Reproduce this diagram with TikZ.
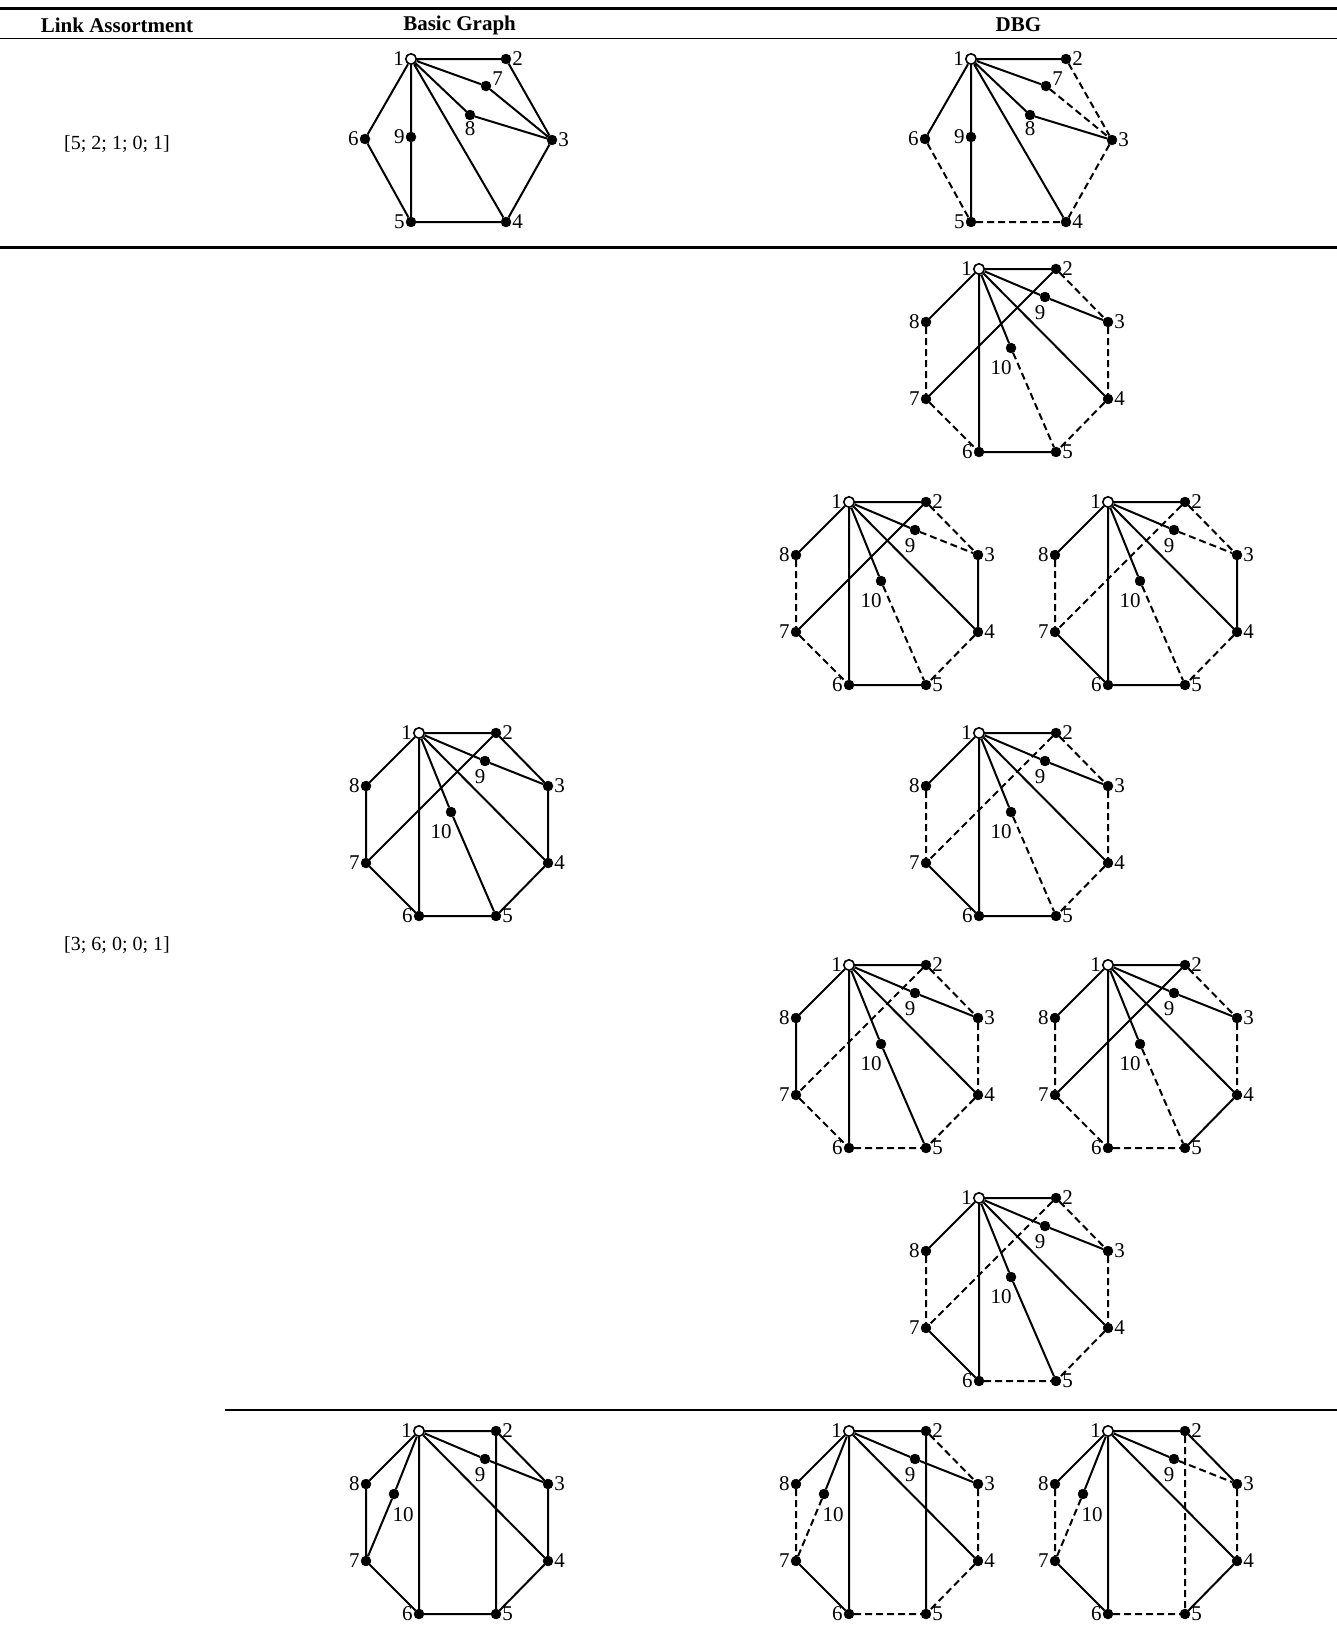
\documentclass[tikz,border=0pt]{standalone}
\usepackage{fontspec}
\setmainfont{Liberation Serif}

% nine node graph of the first row
\newcommand{\hexgraph}[2]{%
  \begin{scope}[shift={#2}]
    \node[root,label=west:1] (#11) at (0,0) {};
    \node[dot,label=east:2] (#12) at (95,0) {};
    \node[dot,label={[yshift=7pt]east:7}] (#17) at (75,27) {};
    \node[dot,label=below:8] (#18) at (59,56) {};
    \node[dot,label=east:3] (#13) at (141,81) {};
    \node[dot,label=west:6] (#16) at (-46,80) {};
    \node[dot,label=west:9] (#19) at (0,78) {};
    \node[dot,label=west:5] (#15) at (0,163) {};
    \node[dot,label=east:4] (#14) at (95,163) {};
  \end{scope}}

% ten node graph: name, place of 1, place of 10, label of 10
\newcommand{\octgraph}[4]{%
  \begin{scope}[shift={#2}]
    \node[root,label=west:1] (#11) at (0,0) {};
    \node[dot,label=east:2] (#12) at (77,0) {};
    \node[dot,label={[xshift=-5pt,yshift=-2pt]below:9}] (#19) at (66,28) {};
    \node[dot,label=east:3] (#13) at (129,53) {};
    \node[dot,label=west:8] (#18) at (-53,53) {};
    \node[dot,label={#4}] (#110) at #3 {};
    \node[dot,label=west:7] (#17) at (-53,130) {};
    \node[dot,label=east:4] (#14) at (129,130) {};
    \node[dot,label=west:6] (#16) at (0,183) {};
    \node[dot,label=east:5] (#15) at (77,183) {};
  \end{scope}}

\begin{document}
\begin{tikzpicture}[x=1pt,y=-1pt,
    dot/.style={circle,draw,fill,inner sep=0pt,minimum size=10pt},
    root/.style={circle,draw,fill=white,line width=1.6pt,inner sep=0pt,minimum size=10.5pt},
    every label/.style={inner sep=1pt,font=\fontsize{21}{24}\selectfont},
    link/.style={line width=2pt},
    dlink/.style={link,dash pattern=on 7pt off 4pt},
    head/.style={font=\fontsize{21}{24}\selectfont\bfseries},
    rowlabel/.style={font=\fontsize{20}{24}\selectfont}]

  \useasboundingbox (0,0) rectangle (1337,1638);

  % table
  \draw[line width=2.5pt] (0,8.4) -- (1337,8.4);
  \draw[line width=1.2pt] (0,38.6) -- (1337,38.6);
  \draw[line width=2.5pt] (0,247.5) -- (1337,247.5);
  \draw[line width=1.5pt] (224.6,1410) -- (1337,1410);

  \node[head] (hlink) at (117,25) {Link Assortment};
  \node[head] (hbasic) at (459.6,25) {Basic Graph};
  \node[head] (hdbg) at (1018.4,25) {DBG};

  \node[rowlabel] (rowa) at (117,144) {[5; 2; 1; 0; 1]};
  \node[rowlabel] (rowb) at (117,945) {[3; 6; 0; 0; 1]};

  % first row
  \hexgraph{hb}{(411,59)}
  \hexgraph{hd}{(971,59)}
  \draw[link] (hb1) -- (hb2) (hb1) -- (hb7) (hb7) -- (hb3) (hb1) -- (hb8)
    (hb8) -- (hb3) (hb2) -- (hb3) (hb1) -- (hb6) (hb6) -- (hb5) (hb1) -- (hb9)
    (hb9) -- (hb5) (hb1) -- (hb4) (hb3) -- (hb4) (hb5) -- (hb4);
  \draw[link] (hd1) -- (hd2) (hd1) -- (hd7) (hd1) -- (hd8) (hd8) -- (hd3)
    (hd1) -- (hd6) (hd1) -- (hd9) (hd9) -- (hd5) (hd1) -- (hd4);
  \draw[dlink] (hd7) -- (hd3) (hd2) -- (hd3) (hd6) -- (hd5) (hd3) -- (hd4) (hd5) -- (hd4);

  % second row
  \octgraph{ob}{(419,733)}{(32,79)}{[xshift=-10pt,yshift=-6pt]below:10}
  \draw[link] (ob1) -- (ob2) (ob1) -- (ob9) (ob9) -- (ob3) (ob2) -- (ob3)
    (ob2) -- (ob7) (ob1) -- (ob8) (ob8) -- (ob7) (ob7) -- (ob6) (ob1) -- (ob6)
    (ob1) -- (ob10) (ob10) -- (ob5) (ob1) -- (ob4) (ob3) -- (ob4) (ob4) -- (ob5)
    (ob6) -- (ob5);

  \octgraph{oa}{(979,269)}{(32,79)}{[xshift=-10pt,yshift=-6pt]below:10}
  \draw[link] (oa1) -- (oa2) (oa1) -- (oa9) (oa9) -- (oa3) (oa2) -- (oa7)
    (oa1) -- (oa8) (oa1) -- (oa6) (oa1) -- (oa10) (oa1) -- (oa4) (oa6) -- (oa5);
  \draw[dlink] (oa2) -- (oa3) (oa8) -- (oa7) (oa7) -- (oa6) (oa10) -- (oa5)
    (oa3) -- (oa4) (oa4) -- (oa5);

  \octgraph{oc}{(849,502)}{(32,79)}{[xshift=-10pt,yshift=-6pt]below:10}
  \draw[link] (oc1) -- (oc2) (oc1) -- (oc9) (oc2) -- (oc7) (oc1) -- (oc8)
    (oc1) -- (oc6) (oc1) -- (oc10) (oc1) -- (oc4) (oc3) -- (oc4) (oc6) -- (oc5);
  \draw[dlink] (oc2) -- (oc3) (oc9) -- (oc3) (oc8) -- (oc7) (oc7) -- (oc6)
    (oc10) -- (oc5) (oc4) -- (oc5);

  \octgraph{od}{(1108,502)}{(32,79)}{[xshift=-10pt,yshift=-6pt]below:10}
  \draw[link] (od1) -- (od2) (od1) -- (od9) (od1) -- (od8) (od7) -- (od6)
    (od1) -- (od6) (od1) -- (od10) (od1) -- (od4) (od3) -- (od4) (od6) -- (od5);
  \draw[dlink] (od2) -- (od3) (od9) -- (od3) (od2) -- (od7) (od8) -- (od7)
    (od10) -- (od5) (od4) -- (od5);

  \octgraph{oe}{(979,733)}{(32,79)}{[xshift=-10pt,yshift=-6pt]below:10}
  \draw[link] (oe1) -- (oe2) (oe1) -- (oe9) (oe9) -- (oe3) (oe1) -- (oe8)
    (oe7) -- (oe6) (oe1) -- (oe6) (oe1) -- (oe10) (oe1) -- (oe4) (oe6) -- (oe5);
  \draw[dlink] (oe2) -- (oe3) (oe2) -- (oe7) (oe8) -- (oe7) (oe10) -- (oe5)
    (oe3) -- (oe4) (oe4) -- (oe5);

  \octgraph{of}{(849,965)}{(32,79)}{[xshift=-10pt,yshift=-6pt]below:10}
  \draw[link] (of1) -- (of2) (of1) -- (of9) (of9) -- (of3) (of1) -- (of8)
    (of8) -- (of7) (of1) -- (of6) (of1) -- (of10) (of10) -- (of5) (of1) -- (of4);
  \draw[dlink] (of2) -- (of3) (of2) -- (of7) (of7) -- (of6) (of3) -- (of4)
    (of4) -- (of5) (of6) -- (of5);

  \octgraph{og}{(1108,965)}{(32,79)}{[xshift=-10pt,yshift=-6pt]below:10}
  \draw[link] (og1) -- (og2) (og1) -- (og9) (og9) -- (og3) (og2) -- (og7)
    (og1) -- (og8) (og1) -- (og6) (og1) -- (og10) (og1) -- (og4) (og4) -- (og5);
  \draw[dlink] (og2) -- (og3) (og8) -- (og7) (og7) -- (og6) (og10) -- (og5)
    (og3) -- (og4) (og6) -- (og5);

  \octgraph{oh}{(979,1198)}{(32,79)}{[xshift=-10pt,yshift=-6pt]below:10}
  \draw[link] (oh1) -- (oh2) (oh1) -- (oh9) (oh9) -- (oh3) (oh1) -- (oh8)
    (oh7) -- (oh6) (oh1) -- (oh6) (oh1) -- (oh10) (oh10) -- (oh5) (oh1) -- (oh4);
  \draw[dlink] (oh2) -- (oh3) (oh2) -- (oh7) (oh8) -- (oh7) (oh3) -- (oh4)
    (oh4) -- (oh5) (oh6) -- (oh5);

  % third row
  \octgraph{pb}{(419,1431)}{(-25,63)}{[xshift=9pt,yshift=-7pt]below:10}
  \draw[link] (pb1) -- (pb2) (pb1) -- (pb9) (pb9) -- (pb3) (pb2) -- (pb3)
    (pb1) -- (pb8) (pb1) -- (pb10) (pb10) -- (pb7) (pb8) -- (pb7) (pb7) -- (pb6)
    (pb1) -- (pb6) (pb2) -- (pb5) (pb1) -- (pb4) (pb3) -- (pb4) (pb4) -- (pb5)
    (pb6) -- (pb5);

  \octgraph{pd}{(849,1431)}{(-25,63)}{[xshift=9pt,yshift=-7pt]below:10}
  \draw[link] (pd1) -- (pd2) (pd1) -- (pd9) (pd9) -- (pd3) (pd1) -- (pd8)
    (pd1) -- (pd10) (pd7) -- (pd6) (pd1) -- (pd6) (pd2) -- (pd5) (pd1) -- (pd4);
  \draw[dlink] (pd2) -- (pd3) (pd10) -- (pd7) (pd8) -- (pd7) (pd3) -- (pd4)
    (pd4) -- (pd5) (pd6) -- (pd5);

  \octgraph{pe}{(1108,1431)}{(-25,63)}{[xshift=9pt,yshift=-7pt]below:10}
  \draw[link] (pe1) -- (pe2) (pe2) -- (pe3) (pe1) -- (pe9) (pe1) -- (pe8)
    (pe1) -- (pe10) (pe7) -- (pe6) (pe1) -- (pe6) (pe1) -- (pe4) (pe4) -- (pe5);
  \draw[dlink] (pe9) -- (pe3) (pe10) -- (pe7) (pe8) -- (pe7) (pe2) -- (pe5)
    (pe3) -- (pe4) (pe6) -- (pe5);
\end{tikzpicture}
\end{document}
